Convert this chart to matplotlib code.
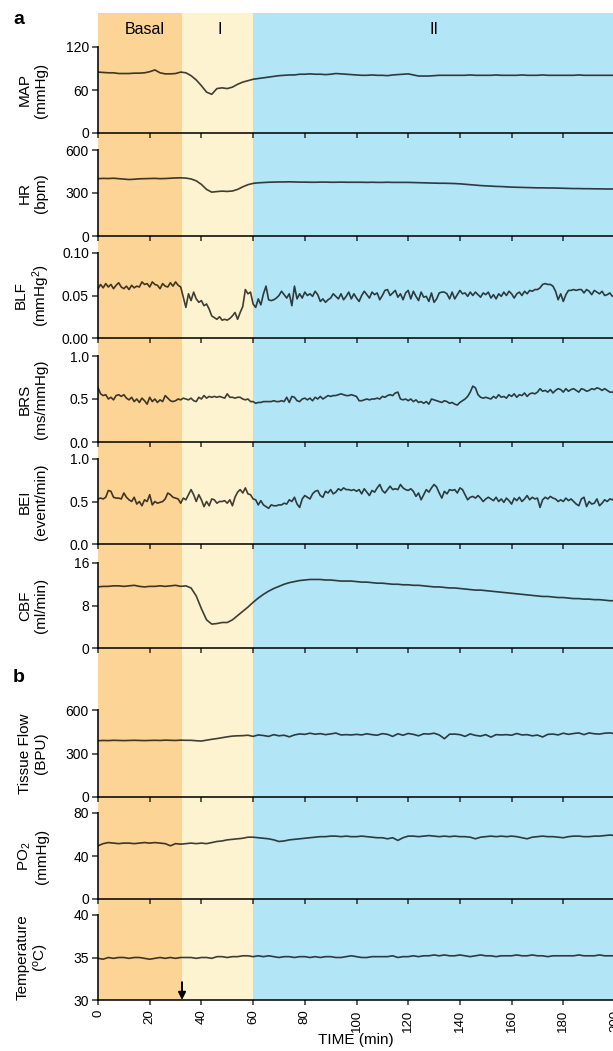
import matplotlib
matplotlib.use('Agg')
import matplotlib.pyplot as plt
import numpy as np

plt.rcParams['font.family'] = ['Liberation Sans', 'DejaVu Sans']
plt.rcParams['mathtext.default'] = 'regular'

# time axes (min)
t1 = np.arange(0, 201, 1)
t2 = np.arange(0, 201, 2)

# phases
phase_names = ['Basal', 'I', 'II']
phase_edges = [0, 32.5, 60, 200]
phase_colors = ['#FCD496', '#FEF3D0', '#B2E6F7']
phase_label_x = [18, 47, 130]

# panel a
map_vals = [85, 84.5, 84, 84, 83, 83, 83, 83.5, 83.5, 84,
            85.5, 88, 84, 82.5, 82.5, 83, 85, 84, 80, 74,
            66, 57, 54, 62, 63, 62, 64, 68, 71, 73,
            75, 76, 77, 78, 79, 80, 80.5, 81, 81, 82,
            82, 82.5, 82, 82, 81.5, 82, 83, 82.5, 82, 81.5,
            81, 80.5, 80.5, 81, 80.5, 80.5, 80, 81, 81.5, 82,
            82.5, 81, 79.5, 79.5, 79.5, 80, 80.5, 80.5, 80.5, 80.5,
            80.5, 80.5, 81, 80.5, 80.5, 80.5, 80.5, 81, 80.5, 80.5,
            80.5, 80.5, 81, 80.5, 80.5, 80.5, 81, 80.5, 80.5, 80.5,
            80.5, 80.5, 80.5, 81, 80.5, 80.5, 80.5, 80.5, 80.5, 80.5,
            80.5]

hr_vals = [400, 402, 401, 403, 400, 397, 394, 396, 399, 400,
           401, 402, 400, 401, 403, 405, 406, 404, 398, 385,
           360, 325, 306, 310, 313, 311, 314, 325, 343, 358,
           367, 371, 373, 375, 376, 377, 377, 378, 377, 376,
           376, 375, 375, 376, 376, 375, 375, 376, 375, 375,
           375, 375, 374, 375, 374, 374, 375, 374, 374, 374,
           374, 373, 372, 371, 370, 369, 368, 368, 367, 366,
           364, 361, 358, 355, 352, 350, 348, 346, 345, 343,
           341, 340, 339, 338, 337, 336, 336, 335, 335, 334,
           333, 332, 331, 331, 330, 330, 329, 329, 328, 328,
           328]

blf_vals = [0.058, 0.063, 0.059, 0.064, 0.060, 0.063, 0.058, 0.062, 0.065, 0.060,
            0.058, 0.061, 0.057, 0.062, 0.059, 0.061, 0.060, 0.066, 0.063, 0.064,
            0.060, 0.066, 0.063, 0.062, 0.058, 0.064, 0.061, 0.060, 0.065, 0.061,
            0.066, 0.062, 0.060, 0.048, 0.036, 0.052, 0.044, 0.054, 0.046, 0.042,
            0.044, 0.038, 0.040, 0.034, 0.026, 0.024, 0.022, 0.025, 0.021, 0.022,
            0.021, 0.023, 0.026, 0.030, 0.022, 0.030, 0.037, 0.057, 0.052, 0.054,
            0.040, 0.036, 0.046, 0.039, 0.052, 0.061, 0.045, 0.044, 0.045, 0.047,
            0.050, 0.055, 0.051, 0.047, 0.052, 0.038, 0.061, 0.046, 0.052, 0.047,
            0.054, 0.050, 0.052, 0.049, 0.055, 0.051, 0.043, 0.046, 0.042, 0.045,
            0.047, 0.052, 0.049, 0.046, 0.052, 0.045, 0.049, 0.054, 0.046, 0.052,
            0.047, 0.043, 0.050, 0.055, 0.051, 0.047, 0.054, 0.051, 0.053, 0.045,
            0.050, 0.056, 0.057, 0.050, 0.053, 0.056, 0.048, 0.052, 0.045, 0.053,
            0.056, 0.046, 0.055, 0.049, 0.044, 0.054, 0.048, 0.049, 0.043, 0.053,
            0.042, 0.046, 0.053, 0.054, 0.054, 0.052, 0.046, 0.054, 0.046, 0.051,
            0.056, 0.052, 0.053, 0.049, 0.054, 0.050, 0.054, 0.051, 0.048, 0.053,
            0.051, 0.054, 0.047, 0.051, 0.046, 0.052, 0.049, 0.054, 0.050, 0.055,
            0.052, 0.047, 0.052, 0.054, 0.050, 0.055, 0.052, 0.056, 0.055, 0.057,
            0.057, 0.059, 0.063, 0.064, 0.063, 0.063, 0.061, 0.055, 0.045, 0.052,
            0.043, 0.051, 0.056, 0.056, 0.057, 0.056, 0.057, 0.057, 0.053, 0.057,
            0.055, 0.051, 0.056, 0.054, 0.052, 0.055, 0.050, 0.051, 0.053, 0.049,
            0.050]

brs_vals = [0.63, 0.56, 0.54, 0.55, 0.50, 0.52, 0.49, 0.54, 0.55, 0.53,
            0.55, 0.51, 0.49, 0.52, 0.47, 0.50, 0.46, 0.51, 0.48, 0.44,
            0.52, 0.47, 0.50, 0.46, 0.49, 0.47, 0.54, 0.51, 0.48, 0.47,
            0.48, 0.50, 0.49, 0.51, 0.50, 0.49, 0.51, 0.48, 0.47, 0.52,
            0.50, 0.54, 0.51, 0.53, 0.52, 0.53, 0.52, 0.53, 0.52, 0.51,
            0.56, 0.52, 0.52, 0.51, 0.52, 0.52, 0.50, 0.49, 0.50, 0.47,
            0.47, 0.45, 0.46, 0.46, 0.47, 0.47, 0.47, 0.47, 0.48, 0.47,
            0.47, 0.48, 0.47, 0.52, 0.46, 0.53, 0.52, 0.48, 0.47, 0.50,
            0.51, 0.49, 0.51, 0.48, 0.52, 0.50, 0.53, 0.50, 0.52, 0.54,
            0.53, 0.54, 0.54, 0.55, 0.56, 0.55, 0.54, 0.54, 0.55, 0.54,
            0.53, 0.48, 0.48, 0.49, 0.50, 0.49, 0.50, 0.50, 0.51, 0.50,
            0.53, 0.52, 0.54, 0.55, 0.54, 0.57, 0.58, 0.50, 0.49, 0.50,
            0.48, 0.50, 0.47, 0.49, 0.46, 0.47, 0.45, 0.47, 0.44, 0.50,
            0.49, 0.48, 0.47, 0.46, 0.48, 0.47, 0.45, 0.46, 0.44, 0.43,
            0.46, 0.48, 0.50, 0.53, 0.58, 0.65, 0.63, 0.55, 0.52, 0.51,
            0.52, 0.51, 0.50, 0.53, 0.51, 0.55, 0.52, 0.53, 0.51, 0.55,
            0.53, 0.56, 0.52, 0.55, 0.54, 0.57, 0.53, 0.56, 0.57, 0.56,
            0.58, 0.62, 0.59, 0.60, 0.58, 0.61, 0.57, 0.60, 0.62, 0.61,
            0.58, 0.62, 0.59, 0.61, 0.62, 0.60, 0.58, 0.62, 0.61, 0.59,
            0.60, 0.62, 0.61, 0.63, 0.62, 0.60, 0.62, 0.60, 0.58, 0.58,
            0.58]

bei_vals = [0.53, 0.54, 0.53, 0.55, 0.63, 0.62, 0.55, 0.54, 0.54, 0.53,
            0.60, 0.55, 0.52, 0.50, 0.55, 0.47, 0.50, 0.45, 0.52, 0.50,
            0.58, 0.46, 0.50, 0.48, 0.49, 0.50, 0.53, 0.60, 0.58, 0.55,
            0.54, 0.53, 0.48, 0.54, 0.52, 0.58, 0.64, 0.58, 0.50, 0.58,
            0.52, 0.44, 0.50, 0.45, 0.53, 0.52, 0.48, 0.50, 0.50, 0.51,
            0.48, 0.52, 0.45, 0.55, 0.61, 0.64, 0.60, 0.66, 0.59, 0.58,
            0.53, 0.52, 0.46, 0.51, 0.46, 0.44, 0.42, 0.46, 0.45, 0.45,
            0.46, 0.46, 0.48, 0.47, 0.52, 0.50, 0.55, 0.47, 0.43, 0.53,
            0.57, 0.55, 0.53, 0.59, 0.62, 0.63, 0.57, 0.55, 0.62, 0.60,
            0.64, 0.59, 0.61, 0.65, 0.63, 0.66, 0.64, 0.64, 0.63, 0.64,
            0.62, 0.64, 0.59, 0.65, 0.61, 0.57, 0.63, 0.61, 0.66, 0.70,
            0.63, 0.60, 0.64, 0.68, 0.64, 0.65, 0.64, 0.70, 0.66, 0.64,
            0.63, 0.65, 0.62, 0.56, 0.60, 0.52, 0.58, 0.64, 0.61, 0.66,
            0.70, 0.67, 0.60, 0.54, 0.62, 0.59, 0.64, 0.63, 0.64, 0.60,
            0.66, 0.64, 0.58, 0.52, 0.55, 0.56, 0.54, 0.57, 0.54, 0.50,
            0.53, 0.55, 0.53, 0.51, 0.55, 0.50, 0.53, 0.49, 0.54, 0.51,
            0.47, 0.54, 0.51, 0.55, 0.50, 0.53, 0.57, 0.52, 0.55, 0.53,
            0.54, 0.43, 0.52, 0.55, 0.53, 0.56, 0.54, 0.53, 0.50, 0.52,
            0.50, 0.54, 0.51, 0.53, 0.50, 0.47, 0.45, 0.53, 0.55, 0.44,
            0.50, 0.47, 0.48, 0.53, 0.45, 0.48, 0.52, 0.50, 0.53, 0.52,
            0.55]

cbf_vals = [11.5, 11.6, 11.6, 11.7, 11.7, 11.6, 11.7, 11.8, 11.6, 11.5,
            11.6, 11.6, 11.7, 11.6, 11.7, 11.8, 11.6, 11.7, 11.3, 9.8,
            7.4, 5.3, 4.5, 4.6, 4.8, 4.8, 5.3, 6.1, 6.9, 7.7,
            8.6, 9.4, 10.1, 10.7, 11.2, 11.6, 12.0, 12.3, 12.5, 12.7,
            12.8, 12.9, 12.9, 12.9, 12.8, 12.8, 12.7, 12.6, 12.6, 12.6,
            12.5, 12.4, 12.4, 12.3, 12.2, 12.2, 12.1, 12.0, 12.0, 11.9,
            11.9, 11.8, 11.8, 11.7, 11.6, 11.5, 11.5, 11.4, 11.3, 11.3,
            11.2, 11.1, 11.0, 10.9, 10.9, 10.8, 10.7, 10.6, 10.5, 10.4,
            10.3, 10.2, 10.1, 10.0, 9.9, 9.8, 9.7, 9.7, 9.6, 9.5,
            9.5, 9.4, 9.3, 9.3, 9.2, 9.2, 9.1, 9.1, 9.0, 8.9,
            8.9]

# panel b
flow_vals = [388, 390, 389, 391, 390, 389, 390, 391, 390, 389,
             390, 391, 390, 392, 391, 390, 392, 391, 391, 388,
             386, 392, 398, 403, 409, 415, 420, 422, 423, 426,
             418, 428, 424, 418, 430, 422, 426, 415, 428, 435,
             432, 440, 433, 437, 430, 435, 441, 428, 430, 428,
             432, 428, 436, 430, 426, 437, 432, 418, 436, 426,
             438, 432, 422, 436, 434, 440, 428, 402, 433, 434,
             430, 418, 435, 425, 420, 430, 413, 430, 428, 430,
             426, 438, 428, 430, 422, 427, 414, 432, 434, 428,
             440, 432, 438, 442, 430, 442, 436, 434, 440, 442,
             436]

po2_vals = [49.5, 51.5, 52.5, 52, 51.5, 52, 52, 51.5, 52, 52.5,
            52, 52.5, 52, 51.5, 49.5, 51.5, 51, 51.5, 52, 51.5,
            52, 51.5, 52.5, 53.5, 54, 55, 55.5, 56, 56.5, 57.5,
            57.5, 57, 56.5, 56, 55, 53.5, 54, 55, 55.5, 56,
            56.5, 57, 57.5, 58, 58, 58.5, 58.5, 58, 58.5, 58,
            58, 58.5, 58, 57.5, 57, 57, 56, 57, 54.5, 57,
            58.5, 58.5, 58, 58.5, 59, 58.5, 58, 58.5, 58, 58.5,
            58, 58, 57.5, 56, 57.5, 58, 58.5, 58, 58.5, 58,
            58.5, 58, 57, 56, 57.5, 58, 58.5, 58, 58, 57.5,
            57, 58, 58.5, 58.5, 58, 58, 58.5, 58.5, 59, 59.5,
            59]

temp_vals = [34.9, 34.8, 35.0, 34.9, 35.0, 35.0, 34.9, 35.0, 35.0, 34.9,
             34.8, 34.9, 35.0, 34.9, 35.0, 34.9, 35.0, 35.0, 35.0, 34.9,
             35.0, 35.0, 34.9, 35.1, 35.1, 35.0, 35.1, 35.1, 35.2, 35.2,
             35.1, 35.2, 35.1, 35.2, 35.1, 35.0, 35.1, 35.1, 35.0, 35.1,
             35.1, 35.0, 35.1, 35.0, 35.1, 35.1, 35.0, 35.0, 35.1, 35.2,
             35.1, 35.0, 35.0, 35.1, 35.1, 35.1, 35.1, 35.2, 35.0, 35.1,
             35.1, 35.2, 35.1, 35.2, 35.2, 35.3, 35.2, 35.3, 35.2, 35.2,
             35.3, 35.2, 35.1, 35.2, 35.3, 35.2, 35.2, 35.1, 35.2, 35.2,
             35.2, 35.3, 35.2, 35.2, 35.3, 35.2, 35.2, 35.1, 35.2, 35.2,
             35.2, 35.2, 35.2, 35.3, 35.2, 35.2, 35.2, 35.3, 35.2, 35.2,
             35.2]

panels = [
    (t2, map_vals, [0, 60, 120], ['0', '60', '120'], 'MAP\n(mmHg)'),
    (t2, hr_vals, [0, 300, 600], ['0', '300', '600'], 'HR\n(bpm)'),
    (t1, blf_vals, [0, 0.05, 0.10], ['0.00', '0.05', '0.10'], 'BLF\n(mmHg$^2$)'),
    (t1, brs_vals, [0, 0.5, 1.0], ['0.0', '0.5', '1.0'], 'BRS\n(ms/mmHg)'),
    (t1, bei_vals, [0, 0.5, 1.0], ['0.0', '0.5', '1.0'], 'BEI\n(event/min)'),
    (t2, cbf_vals, [0, 8, 16], ['0', '8', '16'], 'CBF\n(ml/min)'),
    (t2, flow_vals, [0, 300, 600], ['0', '300', '600'], 'Tissue Flow\n(BPU)'),
    (t2, po2_vals, [0, 40, 80], ['0', '40', '80'], 'PO$_2$\n(mmHg)'),
    (t2, temp_vals, [30, 35, 40], ['30', '35', '40'], 'Temperature\n($^o$C)'),
]

# pixel rows (top, bottom) of each panel
rows_px = [(47, 133), (150, 236), (253, 338), (356, 442), (459, 544),
           (563, 648), (710, 797), (813, 899), (915, 1000)]

W, H = 613, 1051
fig = plt.figure(figsize=(W / 100, H / 100), dpi=100)

left = 98 / W
width = 517 / W

# background phases
ax_bg = fig.add_axes([left, 1 - 1000 / H, width, (1000 - 13) / H], zorder=0)
ax_bg.set_xlim(0, 200)
ax_bg.set_ylim(0, 1)
for i in range(3):
    ax_bg.axvspan(phase_edges[i], phase_edges[i + 1], color=phase_colors[i], lw=0)
    ax_bg.text(phase_label_x[i], 0.983, phase_names[i], ha='center', va='center', fontsize=11.5)
ax_bg.axis('off')

line_col = (0, 0, 0, 0.75)
spine_col = (0, 0, 0, 0.8)

for k, (tt, vals, yt, ytl, lab) in enumerate(panels):
    top, bot = rows_px[k]
    ax = fig.add_axes([left, 1 - bot / H, width, (bot - top) / H], zorder=1)
    ax.patch.set_alpha(0)
    ax.plot(tt, vals, color=line_col, lw=1.2)
    ax.set_xlim(0, 200)
    ax.set_ylim(yt[0], yt[-1])
    ax.set_yticks(yt)
    ax.set_yticklabels(ytl)
    ax.set_xticks(np.arange(0, 201, 20))
    for s in ['top', 'right']:
        ax.spines[s].set_visible(False)
    for s in ['left', 'bottom']:
        ax.spines[s].set_color(spine_col)
        ax.spines[s].set_linewidth(1.4)
    ax.tick_params(axis='y', direction='out', length=4.5, width=1.1, labelsize=10, pad=2,
                   color=spine_col)
    ax.tick_params(axis='x', direction='out', length=3.5, width=1.1, labelsize=9.5,
                   color=spine_col, labelrotation=90)
    if k < len(panels) - 1:
        ax.tick_params(axis='x', labelbottom=False)
    fig.text(33 / W, 1 - (top + bot) / 2 / H, lab, rotation=90, ha='center', va='center',
             multialignment='center', fontsize=11, linespacing=1.15)
    if k == len(panels) - 1:
        ax.annotate('', xy=(32.5, 30), xytext=(32.5, 32.1),
                    arrowprops=dict(arrowstyle='-|>', color='black', lw=1.4,
                                    mutation_scale=11, shrinkA=0, shrinkB=0),
                    annotation_clip=False)

fig.text(19 / W, 1 - 19 / H, 'a', fontsize=14, fontweight='bold', ha='center', va='center')
fig.text(19 / W, 1 - 678 / H, 'b', fontsize=14, fontweight='bold', ha='center', va='center')
fig.text(356 / W, 1 - 1040 / H, 'TIME (min)', fontsize=11, ha='center', va='center')

fig.savefig('out.png', dpi=100)
